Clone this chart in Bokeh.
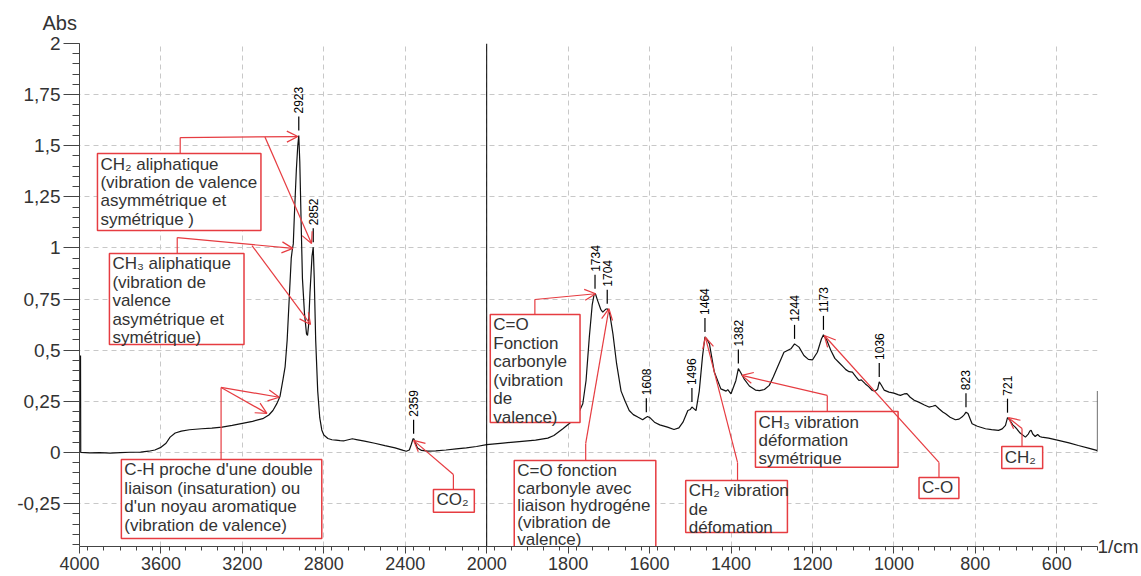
import numpy as np
from bokeh.plotting import figure
from bokeh.models import Range1d, FixedTicker, Span, Arrow, OpenHead, LinearAxis
from bokeh.embed import file_html
from bokeh.resources import INLINE
from bokeh.core.properties import value

# ---------------- data ----------------
wavenumber = [3995, 3994, 3950, 3900, 3850, 3800, 3750, 3700, 3660, 3630, 3600, 3575, 3555, 3530,
              3500, 3460, 3400, 3350, 3300, 3250, 3200, 3150, 3100, 3070, 3050, 3030, 3015, 3000,
              2990, 2980, 2970, 2960, 2955, 2950, 2945, 2935, 2928, 2923, 2918, 2912, 2905, 2895,
              2885, 2880, 2875, 2868, 2858, 2852, 2847, 2840, 2830, 2820, 2810, 2800, 2780, 2760,
              2740, 2720, 2700, 2680, 2660, 2640, 2600, 2550, 2500, 2450, 2410, 2395, 2380, 2370,
              2362, 2358, 2350, 2340, 2320, 2290, 2250, 2200, 2150, 2100, 2050, 2000, 1960, 1920,
              1880, 1850, 1835, 1813, 1788, 1775, 1764, 1756, 1748, 1741, 1736, 1733, 1728, 1720,
              1715, 1708, 1704, 1698, 1690, 1681, 1670, 1660, 1650, 1640, 1629, 1617, 1610, 1605,
              1598, 1588, 1575, 1556, 1540, 1528, 1518, 1506, 1500, 1496, 1490, 1486, 1478, 1470,
              1464, 1458, 1453, 1441, 1425, 1412, 1408, 1400, 1388, 1382, 1376, 1368, 1355, 1340,
              1330, 1318, 1306, 1296, 1286, 1270, 1253, 1244, 1233, 1221, 1210, 1200, 1188, 1178,
              1173, 1165, 1155, 1145, 1135, 1125, 1118, 1110, 1102, 1094, 1086, 1080, 1070, 1062,
              1053, 1046, 1040, 1036, 1031, 1024, 1012, 1000, 990, 984, 975, 968, 960, 950, 939,
              925, 914, 905, 898, 890, 880, 873, 862, 849, 840, 833, 827, 823, 818, 812, 808, 795,
              775, 760, 743, 734, 726, 721, 716, 708, 702, 690, 677, 670, 666, 663, 659, 653, 647,
              642, 637, 620, 596, 570, 547, 520, 502, 500, 500]
absorbance = [0.474, 0.0, -0.002, -0.001, -0.003, -0.001, 0.001, 0.002, 0.006, 0.012, 0.025, 0.045,
              0.075, 0.095, 0.104, 0.111, 0.116, 0.119, 0.124, 0.132, 0.142, 0.152, 0.165, 0.183,
              0.205, 0.24, 0.275, 0.36, 0.42, 0.55, 0.75, 0.95, 0.99, 1.02, 1.15, 1.38, 1.50, 1.55,
              1.42, 1.15, 0.85, 0.68, 0.58, 0.572, 0.62, 0.78, 0.96, 1.004, 0.85, 0.55, 0.30, 0.17,
              0.11, 0.085, 0.068, 0.062, 0.060, 0.058, 0.057, 0.062, 0.067, 0.063, 0.055, 0.045,
              0.033, 0.022, 0.010, 0.006, 0.012, 0.04, 0.066, 0.067, 0.045, 0.022, 0.010, 0.006,
              0.008, 0.012, 0.017, 0.022, 0.029, 0.038, 0.046, 0.053, 0.060, 0.070, 0.083, 0.116,
              0.156, 0.19, 0.238, 0.352, 0.564, 0.72, 0.775, 0.776, 0.745, 0.70, 0.686, 0.70,
              0.703, 0.68, 0.58, 0.434, 0.30, 0.25, 0.205, 0.185, 0.173, 0.16, 0.17, 0.176, 0.168,
              0.148, 0.135, 0.124, 0.112, 0.12, 0.148, 0.205, 0.21, 0.222, 0.212, 0.205, 0.30,
              0.47, 0.565, 0.55, 0.531, 0.393, 0.311, 0.30, 0.307, 0.287, 0.352, 0.41, 0.39, 0.36,
              0.325, 0.305, 0.302, 0.308, 0.328, 0.37, 0.417, 0.49, 0.507, 0.531, 0.515, 0.474,
              0.455, 0.453, 0.49, 0.555, 0.575, 0.55, 0.50, 0.46, 0.44, 0.42, 0.405, 0.395, 0.393,
              0.372, 0.352, 0.355, 0.335, 0.322, 0.303, 0.300, 0.31, 0.345, 0.33, 0.305, 0.295,
              0.290, 0.283, 0.279, 0.286, 0.288, 0.27, 0.255, 0.246, 0.232, 0.222, 0.226, 0.230,
              0.215, 0.198, 0.189, 0.172, 0.160, 0.163, 0.173, 0.185, 0.197, 0.19, 0.16, 0.14,
              0.128, 0.116, 0.112, 0.108, 0.115, 0.132, 0.17, 0.16, 0.135, 0.124, 0.095, 0.075,
              0.09, 0.105, 0.108, 0.09, 0.078, 0.088, 0.078, 0.075, 0.07, 0.059, 0.047, 0.034,
              0.02, 0.01, 0.005, 0.30]

peak_wavenumbers = [2923, 2852, 2359, 1734, 1704, 1608, 1496, 1464, 1382, 1244, 1173, 1036, 823, 721]

x_tick_values = [4000, 3600, 3200, 2800, 2400, 2000, 1800, 1600, 1400, 1200, 1000, 800, 600]
x_tick_labels = ["4000", "3600", "3200", "2800", "2400", "2000", "1800", "1600", "1400", "1200",
                 "1000", "800", "600"]
y_tick_values = [-0.25, 0, 0.25, 0.5, 0.75, 1.0, 1.25, 1.5, 1.75, 2.0]
y_tick_labels = ["-0,25", "0", "0,25", "0,5", "0,75", "1", "1,25", "1,5", "1,75", "2"]
y_title = "Abs"
x_title = "1/cm"

# annotation boxes: text, box (left, right, top, bottom) in axis units, connector corner, arrows
annotations = [
    dict(text="CH\u2082 aliphatique\n(vibration de valence\nasymm\u00e9trique et\nsym\u00e9trique )",
         box=(2955.9, 2554.4, 1.462, 1.086), stem=(2752.7, 1.540),
         arrows=[((2752.7, 1.540), (2463.8, 1.545)), ((2544.6, 1.543), (2430.2, 1.022))]),
    dict(text="CH\u2083 aliphatique\n(vibration de\nvalence\nasym\u00e9trique et\nsym\u00e9trique)",
         box=(2926.5, 2596.0, 0.973, 0.528), stem=(2760.0, 1.051),
         arrows=[((2760.0, 1.051), (2476.0, 0.998)), ((2576.4, 1.012), (2432.7, 0.626))]),
    dict(text="C-H proche d'une double\nliaison (insaturation) ou\nd'un noyau aromatique\n(vibration de valence)",
         box=(2897.2, 2405.0, -0.034, -0.421), stem=(2652.3, 0.318),
         arrows=[((2652.3, 0.318), (2539.7, 0.191)), ((2652.3, 0.318), (2509.5, 0.270))]),
    dict(text="CO\u2082", box=(2130.8, 2030.4, -0.181, -0.293), stem=(2081.8, -0.108),
         arrows=[((2081.8, -0.108), (2179.7, 0.059))]),
    dict(text="C=O\nFonction\ncarbonyle\n(vibration\nde\nvalence)",
         box=(1991.2, 1770.8, 0.675, 0.147), stem=(1881.7, 0.748),
         arrows=[((1881.7, 0.748), (1732.4, 0.776))]),
    dict(text="C=O fonction\ncarbonyle avec\nliaison hydrog\u00e9ne\n(vibration de\nvalence)",
         box=(1932.4, 1584.7, -0.039, -0.47), stem=(1756.9, 0.044),
         arrows=[((1756.9, 0.044), (1699.8, 0.703))], line_height=0.9),
    dict(text="CH\u2082 vibration\nde\nd\u00e9fomation",
         box=(1511.3, 1261.5, -0.137, -0.391), stem=(1384.0, -0.049),
         arrows=[((1384.0, -0.049), (1463.0, 0.564))]),
    dict(text="CH\u2083 vibration\nd\u00e9formation\nsym\u00e9trique",
         box=(1340.0, 989.7, 0.200, -0.073), stem=(1163.6, 0.279),
         arrows=[((1163.6, 0.279), (1373.4, 0.377))]),
    dict(text="C-O", box=(938.3, 840.4, -0.122, -0.225), stem=(889.3, -0.049),
         arrows=[((889.3, -0.049), (1170.9, 0.572))]),
    dict(text="CH\u2082", box=(735.1, 634.7, 0.029, -0.078), stem=(685.4, 0.117),
         arrows=[((685.4, 0.117), (718.7, 0.170))]),
]


# broken axis: 4000-2000 is drawn at half the scale of 2000-500
def to_axis(w):
    w = np.asarray(w, dtype=float)
    return np.where(w > 2000, 2000 + (w - 2000) / 2.0, w)


FONT = "Liberation Sans"
RED = "#e63c41"
TXT = "#333333"

W, H = 1141, 576
ML, MR, MT, MB = 79, 41, 43, 30
FW, FH = W - ML - MR, H - MT - MB
X_LEFT, X_RIGHT = 3000.0, 500.0
Y_MIN, Y_MAX = -0.46, 2.0
ppx = FW / (X_LEFT - X_RIGHT)
ppy = FH / (Y_MAX - Y_MIN)

p = figure(width=W, height=H, x_range=Range1d(X_LEFT, X_RIGHT), y_range=Range1d(Y_MIN, Y_MAX),
           output_backend="svg", toolbar_location=None,
           min_border_left=ML, min_border_right=MR, min_border_top=MT, min_border_bottom=MB)
p.outline_line_color = None
p.background_fill_color = "white"
p.border_fill_color = "white"

# y title ("Abs") as the plot title, placed over the y axis
p.title.text = y_title
p.title.align = "left"
p.title.offset = -37
p.title.standoff = 19
p.title.text_font = FONT
p.title.text_font_size = "20px"
p.title.text_font_style = "normal"
p.title.text_color = TXT

# axes
xu = [float(v) for v in to_axis(x_tick_values)]
x_minor = [float(v) for v in np.arange(500, 3001, 40)]
p.xaxis.ticker = FixedTicker(ticks=xu, minor_ticks=x_minor)
p.xaxis.major_label_overrides = {u: lab for u, lab in zip(xu, x_tick_labels)}
y_minor = [round(v, 2) for v in np.arange(-0.45, 2.001, 0.05)]
p.yaxis.ticker = FixedTicker(ticks=y_tick_values, minor_ticks=y_minor)
p.yaxis.major_label_overrides = {v: lab for v, lab in zip(y_tick_values, y_tick_labels)}

for ax in (p.xaxis[0], p.yaxis[0]):
    ax.axis_line_color = "#444444"
    ax.major_tick_line_color = "#444444"
    ax.minor_tick_line_color = "#444444"
    ax.major_tick_in = 0
    ax.minor_tick_in = 0
    ax.major_label_text_font = FONT
    ax.major_label_text_color = TXT
p.xaxis.major_tick_out = 7
p.xaxis.minor_tick_out = 4
p.xaxis.major_label_standoff = 3
p.xaxis.major_label_text_font_size = "18px"
p.yaxis.major_tick_out = 16
p.yaxis.minor_tick_out = 7
p.yaxis.major_label_standoff = 3
p.yaxis.major_label_text_font_size = "19px"

# x title ("1/cm") at the right end of the x axis, via a label-only right axis
p.extra_y_ranges = {"unit": Range1d(start=-1e-6, end=1.0)}
unit_axis = LinearAxis(y_range_name="unit", ticker=FixedTicker(ticks=[0.0], minor_ticks=[]),
                       major_label_overrides={0.0: x_title}, axis_line_color=None,
                       major_tick_line_color=None, minor_tick_line_color=None,
                       major_tick_out=0, major_tick_in=0, major_label_standoff=0,
                       major_label_text_font=FONT, major_label_text_font_size="19px",
                       major_label_text_color=TXT)
p.add_layout(unit_axis, "right")

for g in (p.xgrid[0], p.ygrid[0]):
    g.grid_line_color = "#c8c8c8"
    g.grid_line_dash = "5 4"
    g.grid_line_width = 1

p.add_layout(Span(location=2000, dimension="height", line_color="black", line_width=1))

# spectrum
u_spec = to_axis(wavenumber)
p.line(u_spec, absorbance, line_color="#111111", line_width=1.2)

# peak labels
order = np.argsort(u_spec, kind="stable")
u_peaks = to_axis(peak_wavenumbers)
a_peaks = np.interp(u_peaks, u_spec[order], np.asarray(absorbance)[order])
p.segment(x0=u_peaks, y0=a_peaks + 5 / ppy, x1=u_peaks, y1=a_peaks + 19 / ppy,
          line_color="black", line_width=1.2)
p.text(x=u_peaks, y=a_peaks + 22 / ppy, text=[str(w) for w in peak_wavenumbers],
       angle=np.pi / 2, text_align="left", text_baseline="middle",
       text_font=value(FONT), text_font_size="12px", text_color="black")

# annotation boxes
for ann in annotations:
    l, r, t, b = ann["box"]
    p.quad(left=l, right=r, top=t, bottom=b, fill_color="white", line_color=RED, line_width=1.5)
    p.text(x=[l - 3 / ppx], y=[t - 1 / ppy], text=[ann["text"]], text_align="left",
           text_baseline="top", text_font=value(FONT), text_font_size="17px",
           text_color=TXT, text_line_height=ann.get("line_height", 0.97))
    sx, sy = ann["stem"]
    p.line([sx, sx], [t, sy], line_color=RED, line_width=1.2)
    for (x0, y0), (x1, y1) in ann["arrows"]:
        p.add_layout(Arrow(end=OpenHead(size=11, line_color=RED, line_width=1.2),
                           x_start=x0, y_start=y0, x_end=x1, y_end=y1,
                           line_color=RED, line_width=1.2))

open("out.html", "w").write(file_html(p, INLINE))
